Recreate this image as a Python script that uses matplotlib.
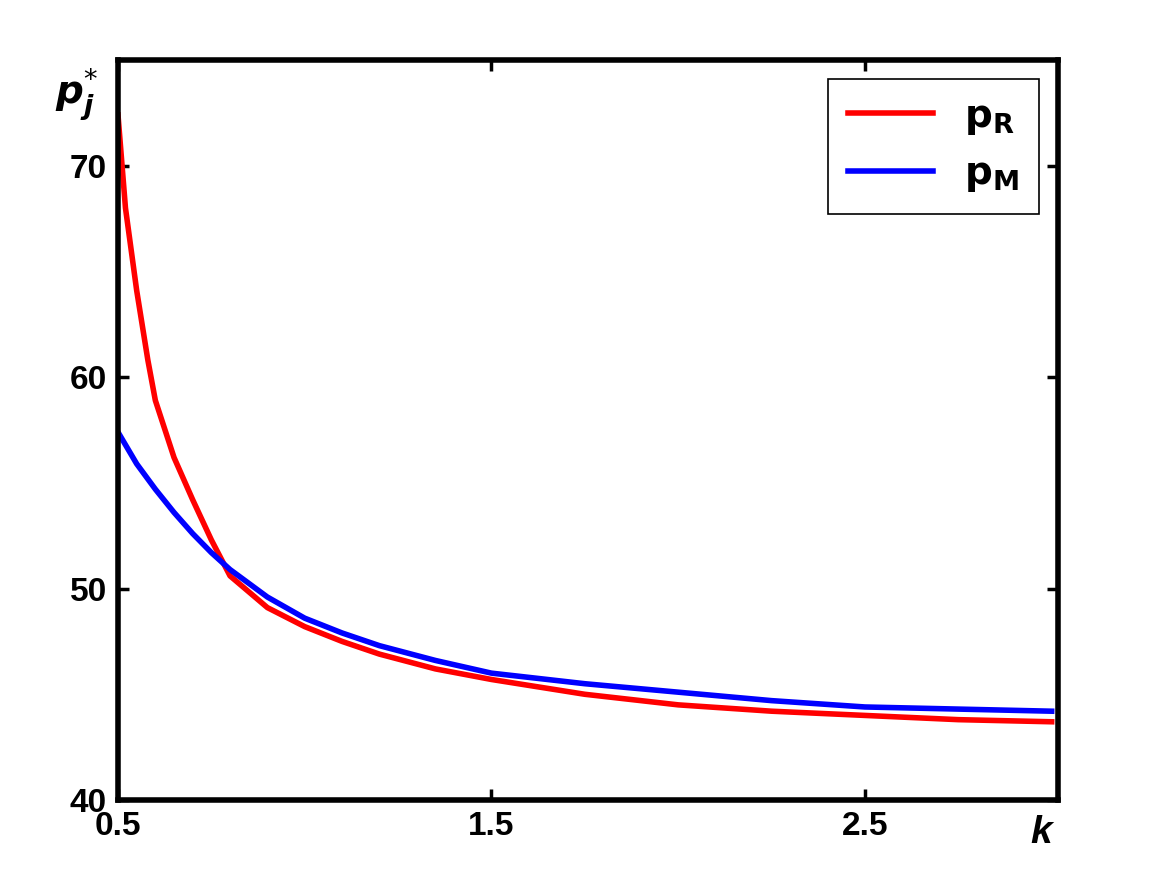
import matplotlib.pyplot as plt

k_red = [0.5, 0.52, 0.55, 0.58, 0.6, 0.65, 0.7, 0.75, 0.8, 0.9, 1.0, 1.1, 1.2, 1.35, 1.5, 1.75, 2.0, 2.25, 2.5, 2.75, 3.0]
p_red = [72.4, 68.0, 64.1, 60.8, 58.9, 56.2, 54.2, 52.3, 50.6, 49.1, 48.2, 47.5, 46.9, 46.2, 45.7, 45.0, 44.5, 44.2, 44.0, 43.8, 43.7]
k_blue = [0.5, 0.55, 0.6, 0.65, 0.7, 0.75, 0.8, 0.9, 1.0, 1.1, 1.2, 1.35, 1.5, 1.75, 2.0, 2.25, 2.5, 2.75, 3.0]
p_blue = [57.4, 55.9, 54.7, 53.6, 52.6, 51.7, 50.9, 49.6, 48.6, 47.9, 47.3, 46.6, 46.0, 45.5, 45.1, 44.7, 44.4, 44.3, 44.2]

plt.rcParams["font.family"] = ["Liberation Sans", "DejaVu Sans"]
fig = plt.figure(figsize=(11.52, 8.91), dpi=100)
ax = fig.add_axes([118 / 1152, 1 - 800 / 891, 940 / 1152, 740 / 891])

ax.plot(k_red, p_red, color="red", lw=4, label=r"$\mathbf{p_R}$")
ax.plot(k_blue, p_blue, color="blue", lw=4, label=r"$\mathbf{p_M}$")

ax.set_xlim(0.5, 3.017)
ax.set_ylim(40, 75)
ax.set_xticks([0.5, 1.5, 2.5])
ax.set_xticklabels(["0.5", "1.5", "2.5"])
ax.set_yticks([40, 50, 60, 70])
ax.tick_params(direction="in", length=8, width=2.5, top=True, right=True,
               labelsize=24, pad=8)
for lab in ax.get_xticklabels() + ax.get_yticklabels():
    lab.set_fontweight("bold")
for s in ax.spines.values():
    s.set_linewidth(4)

fig.text(55 / 1152, 1 - 95 / 891, r"$\boldsymbol{p}_{\boldsymbol{j}}^{*}$", fontsize=28,
         style="italic", fontweight="bold", ha="left", va="center")
fig.text(1030 / 1152, 1 - 833 / 891, "k", fontsize=28, style="italic",
         fontweight="bold", ha="left", va="center")

leg = ax.legend(loc="upper right", fontsize=28, fancybox=False, framealpha=1,
                edgecolor="black", handlelength=2.2, borderpad=0.5)
leg.get_frame().set_linewidth(1.2)

fig.savefig("out.png", dpi=100)
